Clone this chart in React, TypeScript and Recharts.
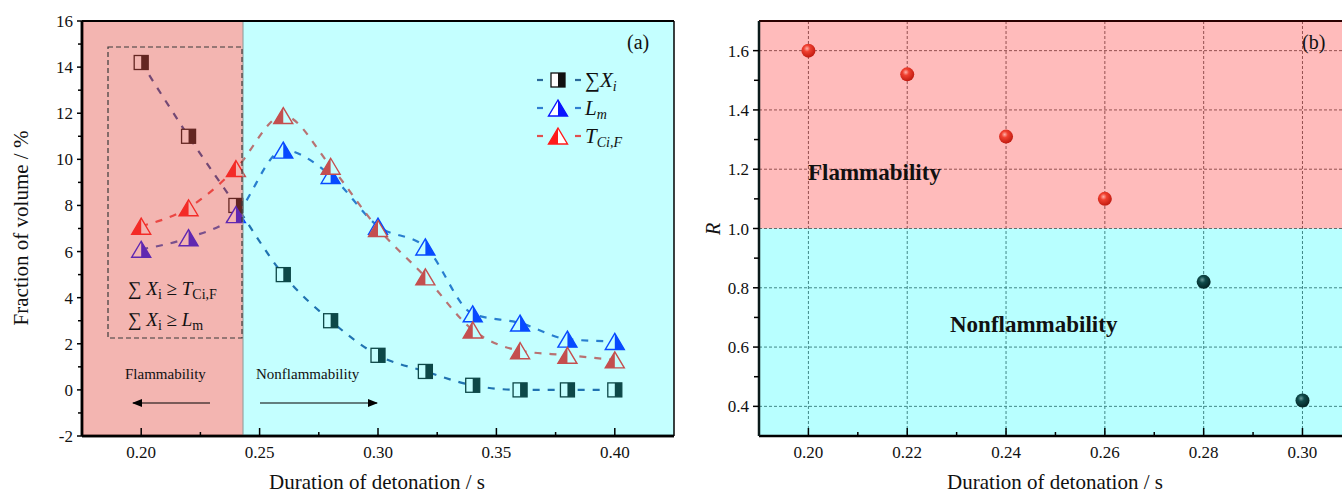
import React from 'react';
import {
  LineChart, Line, XAxis, YAxis, ReferenceArea, ReferenceLine,
  ScatterChart, Scatter, CartesianGrid,
} from 'recharts';

// (a) fraction of volume vs duration
const durations = [0.2, 0.22, 0.24, 0.26, 0.28, 0.3, 0.32, 0.34, 0.36, 0.38, 0.4];
const sumXi = [14.2, 11.0, 8.0, 5.0, 3.0, 1.5, 0.8, 0.2, 0, 0, 0];
const lm = [6.1, 6.6, 7.6, 10.4, 9.3, 7.1, 6.2, 3.3, 2.9, 2.2, 2.1];
const tciF = [7.1, 7.9, 9.6, 11.9, 9.7, 7.0, 4.9, 2.6, 1.7, 1.5, 1.3];

const leftXTicks = [0.2, 0.225, 0.25, 0.275, 0.3, 0.325, 0.35, 0.375, 0.4];
const leftXMajor = [0.2, 0.25, 0.3, 0.35, 0.4];
const leftYTicks = [-2, -1, 0, 1, 2, 3, 4, 5, 6, 7, 8, 9, 10, 11, 12, 13, 14, 15, 16];
const leftYMajor = [-2, 0, 2, 4, 6, 8, 10, 12, 14, 16];

// (b) R vs duration
const rDurations = [0.2, 0.22, 0.24, 0.26, 0.28, 0.3];
const rValues = [1.6, 1.52, 1.31, 1.1, 0.82, 0.42];

const rightXTicks = [0.2, 0.21, 0.22, 0.23, 0.24, 0.25, 0.26, 0.27, 0.28, 0.29, 0.3];
const rightXMajor = [0.2, 0.22, 0.24, 0.26, 0.28, 0.3];
const rightYTicks = [0.4, 0.5, 0.6, 0.7, 0.8, 0.9, 1.0, 1.1, 1.2, 1.3, 1.4, 1.5, 1.6];
const rightYMajor = [0.4, 0.6, 0.8, 1.0, 1.2, 1.4, 1.6];

const leftData = durations.map((t, i) => ({ t, sum: sumXi[i], lm: lm[i], tc: tciF[i] }));
const rightData = rDurations.map((t, i) => ({ t, r: rValues[i] }));

const SERIF = '"Liberation Serif", "Times New Roman", serif';
const BLUE = '#0a14ff';
const RED = '#ff1a1a';
const DARK = '#111';

const isIn = (arr: number[], v: number) => arr.some((m) => Math.abs(m - v) < 1e-9);

type TickOpts = {
  side: 'left' | 'bottom';
  majors: number[];
  majorLen: number;
  minorLen: number;
  gap: number;
  fmt: (v: number) => string;
};

const makeTick = (o: TickOpts) => (props: any) => {
  const { x, y, payload } = props;
  const v = payload.value;
  const major = isIn(o.majors, v);
  const len = major ? o.majorLen : o.minorLen;
  if (o.side === 'left') {
    return (
      <g>
        <line x1={x} y1={y} x2={x - len} y2={y} stroke="#000" strokeWidth={1.5} />
        {major && (
          <text x={x - o.gap} y={y + 6} textAnchor="end" fontFamily={SERIF} fontSize={17} fill="#111">
            {o.fmt(v)}
          </text>
        )}
      </g>
    );
  }
  return (
    <g>
      <line x1={x} y1={y} x2={x} y2={y - len} stroke="#000" strokeWidth={1.5} />
      {major && (
        <text x={x} y={y + o.gap} textAnchor="middle" fontFamily={SERIF} fontSize={17} fill="#111">
          {o.fmt(v)}
        </text>
      )}
    </g>
  );
};

const SquareMark = ({ cx, cy }: { cx: number; cy: number }) => (
  <g>
    <rect x={cx - 7} y={cy - 7} width={14} height={14} fill="#fff" stroke={DARK} strokeWidth={1.3} />
    <rect x={cx} y={cy - 7} width={7} height={14} fill={DARK} />
  </g>
);

const TriMark = ({ cx, cy, color, filledLeft }: { cx: number; cy: number; color: string; filledLeft: boolean }) => {
  const full = `${cx},${cy - 8} ${cx - 9.5},${cy + 8} ${cx + 9.5},${cy + 8}`;
  const half = filledLeft
    ? `${cx},${cy - 8} ${cx - 9.5},${cy + 8} ${cx},${cy + 8}`
    : `${cx},${cy - 8} ${cx},${cy + 8} ${cx + 9.5},${cy + 8}`;
  return (
    <g>
      <polygon points={full} fill="#fff" stroke={color} strokeWidth={1.4} strokeLinejoin="miter" />
      <polygon points={half} fill={color} />
    </g>
  );
};

const Ball = (props: any) => {
  const { cx, cy, payload } = props;
  const id = payload.r >= 1 ? 'ballRed' : 'ballTeal';
  return <circle cx={cx} cy={cy} r={7} fill={`url(#${id})`} />;
};

const LeftChart = () => (
  <LineChart width={700} height={493} data={leftData} margin={{ top: 21, right: 26, bottom: 0, left: 0 }}>
    <XAxis
      dataKey="t"
      type="number"
      domain={[0.175, 0.425]}
      ticks={leftXTicks}
      interval={0}
      height={57}
      tickSize={0}
      tickMargin={0}
      axisLine={{ stroke: '#000', strokeWidth: 2.5 }}
      tickLine={false}
      tick={makeTick({ side: 'bottom', majors: leftXMajor, majorLen: 8, minorLen: 4, gap: 22, fmt: (v) => v.toFixed(2) })}
    />
    <YAxis
      type="number"
      domain={[-2, 16]}
      ticks={leftYTicks}
      interval={0}
      width={82}
      tickSize={0}
      tickMargin={0}
      axisLine={{ stroke: '#000', strokeWidth: 2.5 }}
      tickLine={false}
      tick={makeTick({ side: 'left', majors: leftYMajor, majorLen: 5, minorLen: 4, gap: 9, fmt: (v) => String(v) })}
    />
    <Line
      dataKey="sum"
      type="monotone"
      stroke="#2a4a9a"
      strokeWidth={2.2}
      strokeDasharray="7 8"
      isAnimationActive={false}
      activeDot={false}
      zIndex={300}
      dot={(p: any) => <SquareMark key={`s${p.index}`} cx={p.cx} cy={p.cy} />}
    />
    <Line
      dataKey="lm"
      type="monotone"
      stroke="#3458c1"
      strokeWidth={2.2}
      strokeDasharray="7 8"
      isAnimationActive={false}
      activeDot={false}
      zIndex={300}
      dot={(p: any) => <TriMark key={`l${p.index}`} cx={p.cx} cy={p.cy} color={BLUE} filledLeft={false} />}
    />
    <Line
      dataKey="tc"
      type="monotone"
      stroke="#f04848"
      strokeWidth={2.2}
      strokeDasharray="7 8"
      isAnimationActive={false}
      activeDot={false}
      zIndex={300}
      dot={(p: any) => <TriMark key={`t${p.index}`} cx={p.cx} cy={p.cy} color={RED} filledLeft={true} />}
    />
    <ReferenceArea x1={0.175} x2={0.243} y1={-2} y2={16} fill="#e0463c" fillOpacity={0.4} stroke="none" zIndex={1500} />
    <ReferenceArea x1={0.243} x2={0.425} y1={-2} y2={16} fill="#00ffff" fillOpacity={0.23} stroke="none" zIndex={1500} />
    <ReferenceLine x={0.243} stroke="#8a9a9a" strokeWidth={1} zIndex={1510} />
    <ReferenceLine y={16} stroke="#000" strokeWidth={2} zIndex={1600} />
    <ReferenceLine x={0.425} stroke="#000" strokeWidth={1.5} zIndex={1600} />
    <ReferenceLine y={-2} stroke="#000" strokeWidth={2.5} zIndex={1600} />
    <ReferenceLine x={0.175} stroke="#000" strokeWidth={2.5} zIndex={1600} />
  </LineChart>
);

const RightChart = () => (
  <ScatterChart width={652} height={493} margin={{ top: 21, right: 0, bottom: 0, left: 0 }}>
    <CartesianGrid
      stroke="#5a5a5a"
      strokeDasharray="3 2"
      strokeWidth={1}
      verticalValues={rightXMajor}
      horizontalValues={rightYMajor}
    />
    <ReferenceArea x1={0.19} x2={0.308} y1={1.0} y2={1.7} fill="#ff3c3c" fillOpacity={0.35} stroke="none" />
    <ReferenceArea x1={0.19} x2={0.308} y1={0.3} y2={1.0} fill="#00ffff" fillOpacity={0.28} stroke="none" />
    <XAxis
      dataKey="t"
      type="number"
      domain={[0.19, 0.308]}
      ticks={rightXTicks}
      interval={0}
      height={57}
      tickSize={0}
      tickMargin={0}
      axisLine={{ stroke: '#000', strokeWidth: 2.5 }}
      tickLine={false}
      tick={makeTick({ side: 'bottom', majors: rightXMajor, majorLen: 8, minorLen: 4, gap: 22, fmt: (v) => v.toFixed(2) })}
    />
    <YAxis
      dataKey="r"
      type="number"
      domain={[0.3, 1.7]}
      ticks={rightYTicks}
      interval={0}
      width={69}
      tickSize={0}
      tickMargin={0}
      axisLine={{ stroke: '#0a1a1a', strokeWidth: 2.5 }}
      tickLine={false}
      tick={makeTick({ side: 'left', majors: rightYMajor, majorLen: 6, minorLen: 5, gap: 10, fmt: (v) => v.toFixed(1) })}
    />
    <ReferenceLine y={1.7} stroke="#2a0000" strokeWidth={2} />
    <Scatter data={rightData} isAnimationActive={false} shape={Ball} />
  </ScatterChart>
);

const Annotations = () => (
  <svg width={1342} height={493} style={{ position: 'absolute', left: 0, top: 0, pointerEvents: 'none' }}>
    <defs>
      <marker id="arrowHead" markerWidth="10" markerHeight="8" refX="9" refY="4" orient="auto" markerUnits="userSpaceOnUse">
        <path d="M0,0 L10,4 L0,8 z" fill="#000" />
      </marker>
      <radialGradient id="ballRed" cx="40%" cy="35%" r="65%">
        <stop offset="0%" stopColor="#ffb0a8" />
        <stop offset="35%" stopColor="#f04030" />
        <stop offset="100%" stopColor="#c01a10" />
      </radialGradient>
      <radialGradient id="ballTeal" cx="40%" cy="35%" r="65%">
        <stop offset="0%" stopColor="#6a9a9a" />
        <stop offset="35%" stopColor="#0f4a4a" />
        <stop offset="100%" stopColor="#032424" />
      </radialGradient>
    </defs>
    <g fontFamily={SERIF} fill="#111">
      {/* panel (a) */}
      <text x={627} y={49} fontSize={20}>(a)</text>
      <rect x={108} y={47} width={134} height={291} fill="none" stroke="#3a3a3a" strokeWidth={1.2} strokeDasharray="5 3" />
      <text x={128} y={295} fontSize={19}>
        ∑ <tspan fontStyle="italic">X</tspan><tspan fontSize={14} dy={4}>i</tspan><tspan dy={-4}> ≥ </tspan>
        <tspan fontStyle="italic">T</tspan><tspan fontSize={14} dy={4}>Ci,F</tspan>
      </text>
      <text x={128} y={326} fontSize={19}>
        ∑ <tspan fontStyle="italic">X</tspan><tspan fontSize={14} dy={4}>i</tspan><tspan dy={-4}> ≥ </tspan>
        <tspan fontStyle="italic">L</tspan><tspan fontSize={14} dy={4}>m</tspan>
      </text>
      <text x={125} y={379} fontSize={15}>Flammability</text>
      <text x={256} y={379} fontSize={15}>Nonflammability</text>
      <line x1={210} y1={403} x2={133} y2={403} stroke="#000" strokeWidth={1.2} markerEnd="url(#arrowHead)" />
      <line x1={260} y1={403} x2={377} y2={403} stroke="#000" strokeWidth={1.2} markerEnd="url(#arrowHead)" />
      <text x={377} y={489} fontSize={21} textAnchor="middle">Duration of detonation / s</text>
      <text transform="translate(28,228) rotate(-90)" fontSize={21} textAnchor="middle">Fraction of volume / %</text>

      {/* legend */}
      <line x1={537} y1={80} x2={543} y2={80} stroke="#2a6a9a" strokeWidth={2.2} />
      <line x1={575} y1={80} x2={581} y2={80} stroke="#2a6a9a" strokeWidth={2.2} />
      <SquareMark cx={558} cy={80} />
      <text x={585} y={87} fontSize={21} fontStyle="italic">∑X<tspan fontSize={14} dy={4}>i</tspan></text>

      <line x1={537} y1={108} x2={543} y2={108} stroke="#2f7fd0" strokeWidth={2.2} />
      <line x1={575} y1={108} x2={581} y2={108} stroke="#2f7fd0" strokeWidth={2.2} />
      <TriMark cx={558} cy={108} color={BLUE} filledLeft={false} />
      <text x={585} y={115} fontSize={21} fontStyle="italic">L<tspan fontSize={14} dy={4}>m</tspan></text>

      <line x1={537} y1={136} x2={543} y2={136} stroke="#e05050" strokeWidth={2.2} />
      <line x1={575} y1={136} x2={581} y2={136} stroke="#e05050" strokeWidth={2.2} />
      <TriMark cx={558} cy={136} color={RED} filledLeft={true} />
      <text x={585} y={143} fontSize={21} fontStyle="italic">T<tspan fontSize={14} dy={4}>Ci,F</tspan></text>

      {/* panel (b) */}
      <text x={1302} y={49} fontSize={20}>(b)</text>
      <text x={808} y={180} fontSize={23} fontWeight="bold">Flammability</text>
      <text x={950} y={332} fontSize={23} fontWeight="bold">Nonflammability</text>
      <text x={1055} y={489} fontSize={21} textAnchor="middle">Duration of detonation / s</text>
      <text transform="translate(720,229) rotate(-90)" fontSize={20} fontStyle="italic" textAnchor="middle">R</text>
    </g>
  </svg>
);

export default function App() {
  return (
    <div style={{ position: 'relative', width: 1342, height: 493, background: '#fff', overflow: 'hidden' }}>
      <style>{'body{margin:0}'}</style>
      <div style={{ position: 'absolute', left: 0, top: 0 }}>
        <LeftChart />
      </div>
      <div style={{ position: 'absolute', left: 690, top: 0 }}>
        <RightChart />
      </div>
      <Annotations />
    </div>
  );
}
